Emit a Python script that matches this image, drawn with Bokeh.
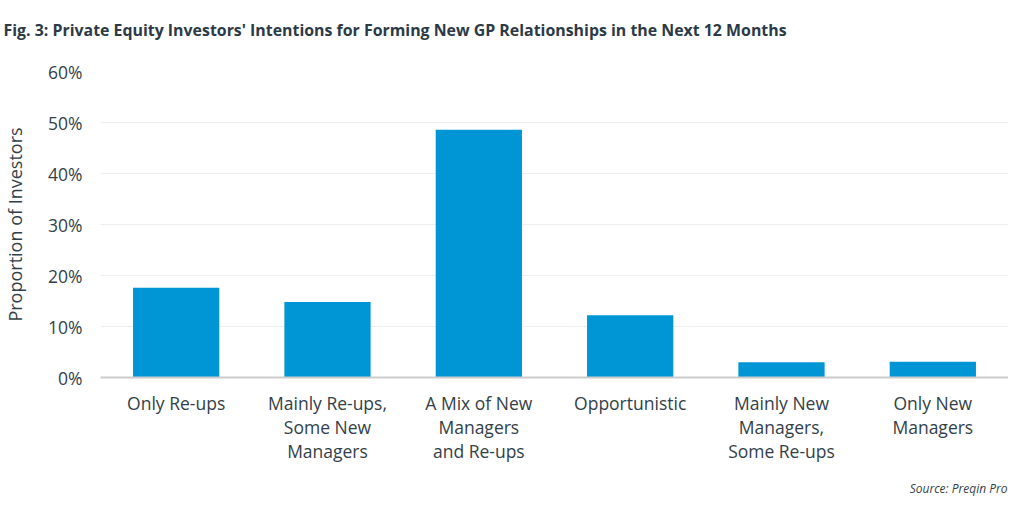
from bokeh.plotting import figure
from bokeh.models import FactorRange, Range1d, PrintfTickFormatter, FixedTicker, Title
from bokeh.embed import file_html
from bokeh.resources import INLINE

categories = ["Only Re-ups", "Mainly Re-ups,\nSome New\nManagers", "A Mix of New\nManagers\nand Re-ups",
              "Opportunistic", "Mainly New\nManagers,\nSome Re-ups", "Only New\nManagers"]
values = [17.6, 14.8, 48.6, 12.2, 3.0, 3.1]
y_ticks = [0, 10, 20, 30, 40, 50, 60]

title_text = "Fig. 3: Private Equity Investors' Intentions for Forming New GP Relationships in the Next 12 Months"
source_text = "Source: Preqin Pro"
FONT = "Open Sans"
TXT = "#333f48"

p = figure(width=1008, height=496, output_backend="svg", toolbar_location=None,
           x_range=FactorRange(factors=categories, range_padding=0),
           y_range=Range1d(0, 60), min_border_left=98, min_border_right=0,
           min_border_top=0, min_border_bottom=119)
p.vbar(x=categories, top=values, width=0.57, color="#0096D6", line_color=None)

p.outline_line_color = None
p.background_fill_color = "white"
p.border_fill_color = "white"
p.xgrid.grid_line_color = None
p.ygrid.grid_line_color = "#eeeeee"
p.ygrid.grid_line_width = 1

p.yaxis.ticker = FixedTicker(ticks=y_ticks)
p.yaxis.formatter = PrintfTickFormatter(format="%d%%")
p.yaxis.axis_line_color = None
p.yaxis.major_tick_line_color = None
p.yaxis.minor_tick_line_color = None
p.yaxis.major_tick_out = 0
p.yaxis.minor_tick_out = 0
p.yaxis.major_label_text_font = FONT
p.yaxis.major_label_text_font_size = "17.5px"
p.yaxis.major_label_text_color = TXT
p.yaxis.major_label_standoff = 18
p.yaxis.axis_label = "Proportion of Investors"
p.yaxis.axis_label_text_font = FONT
p.yaxis.axis_label_text_font_style = "normal"
p.yaxis.axis_label_text_font_size = "18px"
p.yaxis.axis_label_text_color = TXT
p.yaxis.axis_label_standoff = 18

p.xaxis.axis_line_color = "#cccccc"
p.xaxis.axis_line_width = 2
p.xaxis.major_tick_line_color = None
p.xaxis.minor_tick_line_color = None
p.xaxis.major_tick_out = 0
p.xaxis.minor_tick_out = 0
p.xaxis.major_label_text_font = FONT
p.xaxis.major_label_text_font_size = "17.5px"
p.xaxis.major_label_text_color = TXT
p.xaxis.major_label_standoff = 13
p.xaxis.major_label_text_line_height = 1.0

# above: first added sits nearest the frame
p.add_layout(Title(text=" ", text_font_size="10px", standoff=1.6), "above")
p.add_layout(Title(text=title_text, align="left", offset=-97, standoff=32, vertical_align="bottom",
                   text_font=FONT, text_font_style="bold", text_font_size="15.9px",
                   text_color="#2b3a46"), "above")
# below: axis first, then spacer, then source
p.add_layout(Title(text=" ", text_font_size="8px", standoff=1.4), "below")
p.add_layout(Title(text=source_text, align="right", offset=1, standoff=0, vertical_align="bottom",
                   text_font=FONT, text_font_style="italic", text_font_size="12px",
                   text_color=TXT), "below")

open("out.html", "w").write(file_html(p, INLINE))
